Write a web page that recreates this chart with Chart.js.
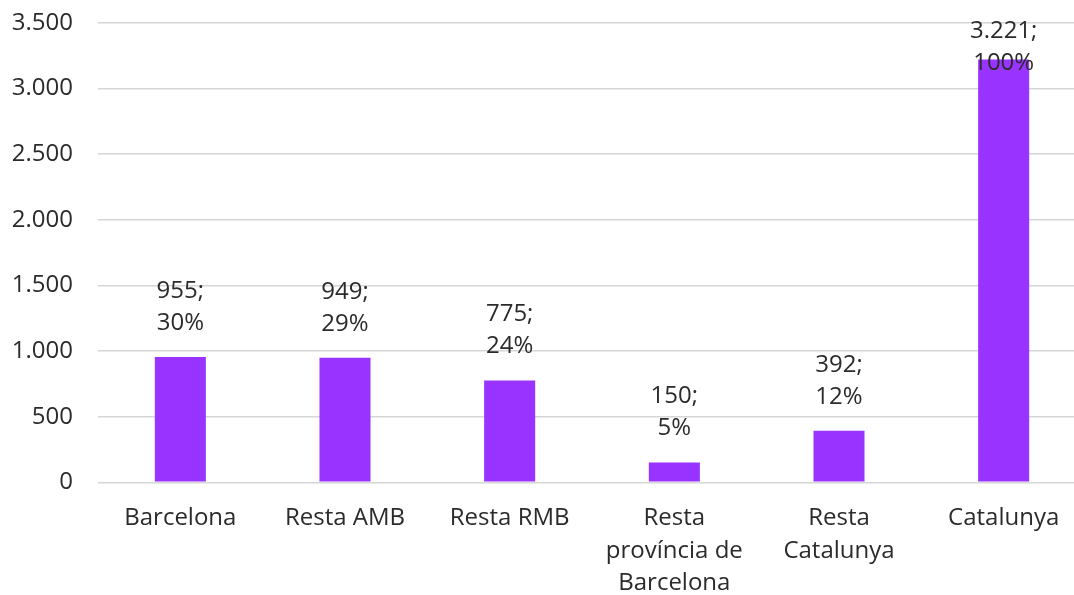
<!DOCTYPE html>
<html>
<head>
<meta charset="utf-8">
<script src="https://cdn.jsdelivr.net/npm/chart.js@4"></script>
<style>
  html, body { margin: 0; padding: 0; background: #fff; overflow: hidden; }
  #wrap { width: 1086px; height: 595px; }
</style>
</head>
<body>
<div id="wrap"><canvas id="chart"></canvas></div>
<script>
// Dades
const categories = ['Barcelona', 'Resta AMB', 'Resta RMB', ['Resta', 'província de', 'Barcelona'], ['Resta', 'Catalunya'], 'Catalunya'];
const values = [955, 949, 775, 150, 392, 3221];
const shares = ['30%', '29%', '24%', '5%', '12%', '100%'];
const yTicks = [0, 500, 1000, 1500, 2000, 2500, 3000, 3500];

const FONT = '"Open Sans", "Noto Sans", sans-serif';
const TEXT = '#2b2b2b';

// format 3.500
function fmt(v) {
    return String(v).replace(/\B(?=(\d{3})+(?!\d))/g, '.');
}

// etiquetes de dades "955;" / "30%"
const labelPlugin = {
    id: 'barLabels',
    afterDatasetsDraw(chart) {
        const ctx = chart.ctx;
        const meta = chart.getDatasetMeta(0);
        ctx.save();
        ctx.font = '24px ' + FONT;
        ctx.fillStyle = TEXT;
        ctx.textAlign = 'center';
        ctx.textBaseline = 'middle';
        meta.data.forEach((bar, i) => {
            let y1 = bar.y - 66;
            if (y1 < chart.chartArea.top + 8) y1 = chart.chartArea.top + 8;
            ctx.fillText(fmt(values[i]) + ';', bar.x, y1);
            ctx.fillText(shares[i], bar.x, y1 + 32);
        });
        ctx.restore();
    }
};

const ctx = document.getElementById('chart').getContext('2d');
new Chart(ctx, {
    type: 'bar',
    data: {
        labels: categories,
        datasets: [{
            data: values,
            backgroundColor: '#9933ff',
            barPercentage: 0.31,
            categoryPercentage: 1.0
        }]
    },
    options: {
        responsive: true,
        maintainAspectRatio: false,
        animation: false,
        layout: {
            padding: { top: 23, left: 12, right: 0, bottom: 0 }
        },
        scales: {
            x: {
                afterFit(axis) { axis.height = 112.7; },
                grid: { display: false, drawTicks: false },
                border: { display: false },
                ticks: {
                    color: TEXT,
                    font: { family: FONT, size: 24, lineHeight: 1.35 },
                    padding: 20,
                    maxRotation: 0,
                    autoSkip: false
                }
            },
            y: {
                min: 0,
                max: 3500,
                afterFit(axis) {
                    axis.width = 86;
                    axis.paddingTop = 0;
                    axis.paddingBottom = 0;
                },
                afterBuildTicks(axis) {
                    axis.ticks = yTicks.map(v => ({ value: v }));
                },
                grid: { color: '#d6d6d6', lineWidth: 1.5, drawTicks: false },
                border: { display: false },
                ticks: {
                    color: TEXT,
                    font: { family: FONT, size: 24 },
                    padding: 25,
                    callback: v => fmt(v)
                }
            }
        },
        plugins: {
            legend: { display: false },
            tooltip: { enabled: false }
        }
    },
    plugins: [labelPlugin]
});
</script>
</body>
</html>
